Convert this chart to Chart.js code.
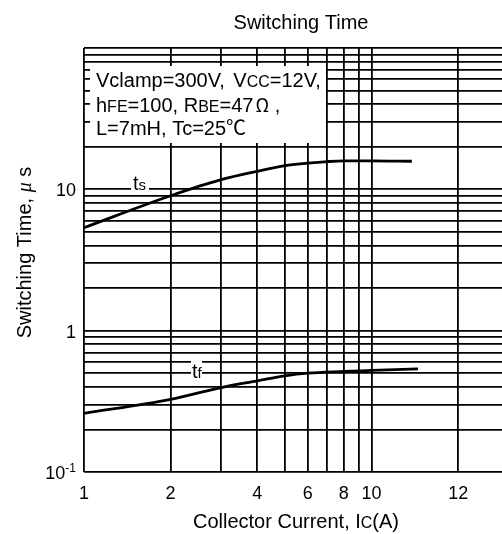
<!DOCTYPE html>
<html>
<head>
<meta charset="utf-8">
<script src="https://cdn.jsdelivr.net/npm/chart.js@4.4.1/dist/chart.umd.min.js"></script>
<style>
  html, body { margin: 0; padding: 0; background: #fff; }
  #chart { display: block; }
</style>
</head>
<body>
<canvas id="chart" width="502" height="534"></canvas>
<script>
// values
const tsCurrent = [1, 2, 3, 4, 5, 6, 7, 8, 10, 13.8];
const tsValues = [5.35, 9.0, 11.7, 13.4, 14.7, 15.3, 15.7, 15.9, 15.9, 15.8];
const tfCurrent = [1, 2, 3, 4, 5, 6, 8, 10, 14.5];
const tfValues = [0.26, 0.327, 0.396, 0.441, 0.479, 0.5, 0.514, 0.523, 0.537];

// grid lines and tick labels
const xGrid = [1, 2, 3, 4, 5, 6, 7, 8, 9, 10, 20];
const xLabelValues = [1, 2, 4, 6, 8, 10, 20];
const xLabelTexts = ['1', '2', '4', '6', '8', '10', '12'];
const yGrid = [0.1, 0.2, 0.3, 0.4, 0.5, 0.6, 0.7, 0.8, 0.9, 1, 2, 3, 4, 5, 6, 7, 8, 9, 10, 20, 30, 40, 50, 60, 70, 80, 90, 100];
const yLabelValues = [1, 10];
const yLabelTexts = ['1', '10'];

const SANS = '"Liberation Sans", Arial, sans-serif';
const CJK = '"Noto Sans CJK JP", sans-serif';

// a run is [text, font] or a number (extra gap in px)
function runsWidth(ctx, runs) {
  let w = 0;
  runs.forEach(r => {
    if (typeof r === 'number') { w += r; return; }
    ctx.font = r[1];
    w += ctx.measureText(r[0]).width;
  });
  return w;
}
function drawRuns(ctx, runs, x, y) {
  runs.forEach(r => {
    if (typeof r === 'number') { x += r; return; }
    ctx.font = r[1];
    ctx.fillText(r[0], x, y);
    x += ctx.measureText(r[0]).width;
  });
}

const big = '20px ' + SANS;
const small = '16px ' + SANS;

const textPlugin = {
  id: 'texts',
  beforeDatasetsDraw(chart) {
    const ctx = chart.ctx;
    const ys = chart.scales.y;
    ctx.save();
    ctx.textAlign = 'left';
    ctx.textBaseline = 'alphabetic';

    // conditions box
    ctx.fillStyle = '#fff';
    ctx.fillRect(90, 66, 236, 77);
    ctx.fillStyle = '#000';
    drawRuns(ctx, [['Vclamp=300V,', big], 3, [' V', big], ['CC', small], ['=12V,', big]], 96, 86.5);
    drawRuns(ctx, [['h', big], ['FE', small], ['=100, R', big], ['BE', small], ['=47', big], 2, ['\u03a9', '18px ' + CJK], [' ,', big]], 96, 111.5);
    drawRuns(ctx, [['L=7mH, Tc=25', big], ['\u2103', '20px ' + CJK]], 96, 135);

    // curve labels
    ctx.fillStyle = '#fff';
    ctx.fillRect(131, 173, 18, 20);
    ctx.fillRect(191, 361, 11, 17);
    ctx.fillStyle = '#000';
    drawRuns(ctx, [['t', big], ['s', '15px ' + SANS]], 133, 190);
    drawRuns(ctx, [['t', big], ['f', '15px ' + SANS]], 192, 378);

    // 10^-1 tick label
    const y01 = ys.getPixelForValue(0.1);
    ctx.font = '12px ' + SANS;
    const supW = ctx.measureText('-1').width;
    ctx.textAlign = 'right';
    ctx.fillText('-1', 76, y01);
    ctx.font = '18px ' + SANS;
    ctx.fillText('10', 76 - supW, y01 + 7);
    ctx.textAlign = 'left';

    // chart title
    const tRuns = [['Switching Time', big]];
    drawRuns(ctx, tRuns, 301 - runsWidth(ctx, tRuns) / 2, 28.5);

    // x axis title
    const xRuns = [['Collector Current, I', big], ['C', small], ['(A)', big]];
    drawRuns(ctx, xRuns, 296 - runsWidth(ctx, xRuns) / 2, 527.5);

    // y axis title
    const yRuns = [['Switching Time, ', big], ['\u03bc', 'italic 20px "Liberation Serif", serif'], [' s', big]];
    ctx.translate(31, 252.5);
    ctx.rotate(-Math.PI / 2);
    drawRuns(ctx, yRuns, -runsWidth(ctx, yRuns) / 2, 0);
    ctx.restore();
  }
};

new Chart(document.getElementById('chart'), {
  type: 'line',
  data: {
    datasets: [
      {
        label: 'ts',
        data: tsCurrent.map((x, i) => ({ x: x, y: tsValues[i] })),
        borderColor: '#000',
        borderWidth: 2.8,
        pointRadius: 0,
        cubicInterpolationMode: 'monotone',
        fill: false
      },
      {
        label: 'tf',
        data: tfCurrent.map((x, i) => ({ x: x, y: tfValues[i] })),
        borderColor: '#000',
        borderWidth: 2.8,
        pointRadius: 0,
        cubicInterpolationMode: 'monotone',
        fill: false
      }
    ]
  },
  options: {
    responsive: false,
    animation: false,
    events: [],
    layout: { padding: { top: 48, right: 0, bottom: 0, left: 0 } },
    plugins: {
      legend: { display: false },
      tooltip: { enabled: false },
      title: { display: false }
    },
    scales: {
      x: {
        type: 'logarithmic',
        bounds: 'data',
        min: 1,
        max: 28.4,
        border: { display: false },
        grid: { color: '#000', lineWidth: 1.8, drawTicks: false },
        afterBuildTicks: (s) => { s.ticks = xGrid.map(v => ({ value: v })); },
        afterFit: (s) => { s.height = 62; },
        ticks: {
          autoSkip: false,
          maxRotation: 0,
          padding: 11,
          color: '#000',
          font: { family: SANS, size: 18 },
          callback: (v) => {
            const i = xLabelValues.indexOf(v);
            return i < 0 ? '' : xLabelTexts[i];
          }
        }
      },
      y: {
        type: 'logarithmic',
        bounds: 'data',
        min: 0.1,
        max: 100,
        border: { display: false },
        grid: { color: '#000', lineWidth: 1.8, drawTicks: false },
        afterBuildTicks: (s) => { s.ticks = yGrid.map(v => ({ value: v })); },
        afterFit: (s) => { s.width = 84; },
        ticks: {
          autoSkip: false,
          padding: 8,
          labelOffset: 2,
          color: '#000',
          font: { family: SANS, size: 18 },
          callback: (v) => {
            const i = yLabelValues.indexOf(v);
            return i < 0 ? '' : yLabelTexts[i];
          }
        }
      }
    }
  },
  plugins: [textPlugin]
});
</script>
</body>
</html>
